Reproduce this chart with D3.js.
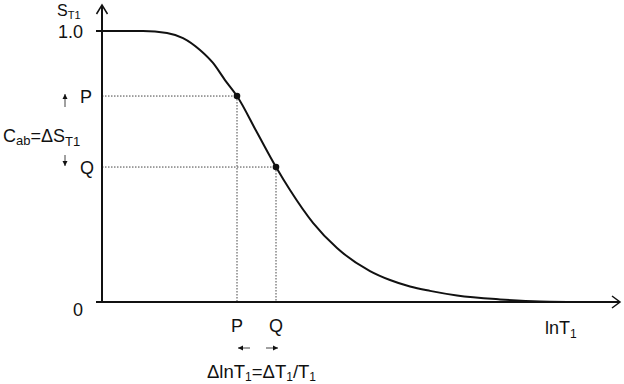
<!DOCTYPE html>
<html><head><meta charset="utf-8">
<script src="https://cdn.jsdelivr.net/npm/d3@7"></script>
<style>
body{margin:0;background:#fff}
text{font-family:"Liberation Sans",Arial,Helvetica,sans-serif;fill:#111}
</style></head>
<body><svg id="c" width="624" height="384"></svg>
<script>
// survival curve S_T1 versus lnT1 (arbitrary units)
const lnT = [0, 0.82, 1.30, 1.62, 1.96, 2.22, 2.46, 2.70, 3.09, 3.48, 3.76, 4.22, 4.70, 5.36, 5.76, 6.16, 6.56, 7.10, 7.96, 8.76, 9.76];
const S   = [1.0, 1.0, 0.993, 0.974, 0.930, 0.882, 0.819, 0.760, 0.629, 0.498, 0.413, 0.292, 0.199, 0.114, 0.081, 0.057, 0.041, 0.024, 0.0096, 0.002, 0.0];
const markNames = ["P", "Q"];
const markLnT = [2.70, 3.48];
const markS = [0.760, 0.498];
const yTickValues = [0, 1];
const yTickLabels = ["0", "1.0"];

const svg = d3.select("#c");
const x = d3.scaleLinear().domain([0, 10]).range([102, 602]);
const y = d3.scaleLinear().domain([0, 1]).range([302, 31]);
const ink = "#111";

// dotted guides
markNames.forEach((n, i) => {
  svg.append("line").attr("x1", x(0)).attr("x2", x(markLnT[i])).attr("y1", y(markS[i])).attr("y2", y(markS[i]))
    .attr("stroke", "#444").attr("stroke-width", 1).attr("stroke-dasharray", "1.5,1.5");
  svg.append("line").attr("x1", x(markLnT[i])).attr("x2", x(markLnT[i])).attr("y1", y(markS[i])).attr("y2", y(0))
    .attr("stroke", "#444").attr("stroke-width", 1).attr("stroke-dasharray", "1.5,1.5");
});

// curve
const pts = lnT.map((v, i) => [v, S[i]]);
svg.append("path").datum(pts)
  .attr("d", d3.line().x(d => x(d[0])).y(d => y(d[1])).curve(d3.curveMonotoneX))
  .attr("fill", "none").attr("stroke", ink).attr("stroke-width", 2);

// axes
svg.append("line").attr("x1", x(0)).attr("x2", x(0)).attr("y1", y(0) + 1).attr("y2", 5)
  .attr("stroke", ink).attr("stroke-width", 2);
svg.append("path").attr("d", `M${x(0) - 5.5},14 L${x(0)},5 L${x(0) + 5.5},14`)
  .attr("fill", "none").attr("stroke", ink).attr("stroke-width", 1.5);
svg.append("line").attr("x1", x(0) - 5).attr("x2", 620).attr("y1", y(0)).attr("y2", y(0))
  .attr("stroke", ink).attr("stroke-width", 2);
svg.append("path").attr("d", `M612,${y(0) - 6} L620,${y(0)} L612,${y(0) + 6}`)
  .attr("fill", "none").attr("stroke", ink).attr("stroke-width", 1.5);
// y ticks
yTickValues.forEach((v, i) => {
  svg.append("line").attr("x1", x(0) - 6).attr("x2", x(0)).attr("y1", y(v)).attr("y2", y(v))
    .attr("stroke", ink).attr("stroke-width", 2);
  svg.append("text").attr("x", 83).attr("y", v === 0 ? y(v) + 14 : y(v) + 7)
    .attr("text-anchor", "end").attr("font-size", 18).text(yTickLabels[i]);
});

// marker points
svg.selectAll("circle.m").data(markNames).join("circle")
  .attr("cx", (d, i) => x(markLnT[i])).attr("cy", (d, i) => y(markS[i])).attr("r", 3.3).attr("fill", ink);

// axis titles
const yt = svg.append("text").attr("x", 57).attr("y", 16).attr("font-size", 16);
yt.append("tspan").text("S");
yt.append("tspan").attr("font-size", 11).attr("dy", 3).text("T1");

const xt = svg.append("text").attr("x", 545).attr("y", 334).attr("font-size", 18);
xt.append("tspan").text("lnT");
xt.append("tspan").attr("font-size", 12).attr("dy", 4).text("1");

// y-side labels P, Q
markNames.forEach((n, i) => {
  svg.append("text").attr("x", 80).attr("y", y(markS[i]) + 6.5).attr("font-size", 18).text(n);
  svg.append("text").attr("x", x(markLnT[i])).attr("y", 332).attr("text-anchor", "middle").attr("font-size", 18).text(n);
});

// small arrows
function arrow(x1, y1, x2, y2) {
  svg.append("line").attr("x1", x1).attr("y1", y1).attr("x2", x2).attr("y2", y2).attr("stroke", ink).attr("stroke-width", 0.8);
  const a = Math.atan2(y2 - y1, x2 - x1), L = 5, W = 2.5;
  const bx = x2 - L * Math.cos(a), by = y2 - L * Math.sin(a);
  const px = -Math.sin(a) * W, py = Math.cos(a) * W;
  svg.append("path").attr("d", `M${x2},${y2} L${bx + px},${by + py} L${bx - px},${by - py} Z`).attr("fill", ink);
}
arrow(65, 107, 65, 94);
arrow(65, 155, 65, 166);
arrow(250, 348, 238, 348);
arrow(266, 348, 278, 348);

// C_ab = ΔS_T1
const ct = svg.append("text").attr("x", 3).attr("y", 142).attr("font-size", 18);
ct.append("tspan").text("C");
ct.append("tspan").attr("font-size", 13).attr("dy", 3).text("ab");
ct.append("tspan").attr("dy", -3).text("=ΔS");
ct.append("tspan").attr("font-size", 13).attr("dy", 4).text("T1");

// ΔlnT1 = ΔT1/T1
const bt = svg.append("text").attr("x", 207).attr("y", 378).attr("font-size", 18.5);
bt.append("tspan").text("ΔlnT");
bt.append("tspan").attr("font-size", 12).attr("dy", 3).text("1");
bt.append("tspan").attr("dy", -3).text("=ΔT");
bt.append("tspan").attr("font-size", 12).attr("dy", 3).text("1");
bt.append("tspan").attr("dy", -3).text("/T");
bt.append("tspan").attr("font-size", 12).attr("dy", 3).text("1");
</script></body></html>
